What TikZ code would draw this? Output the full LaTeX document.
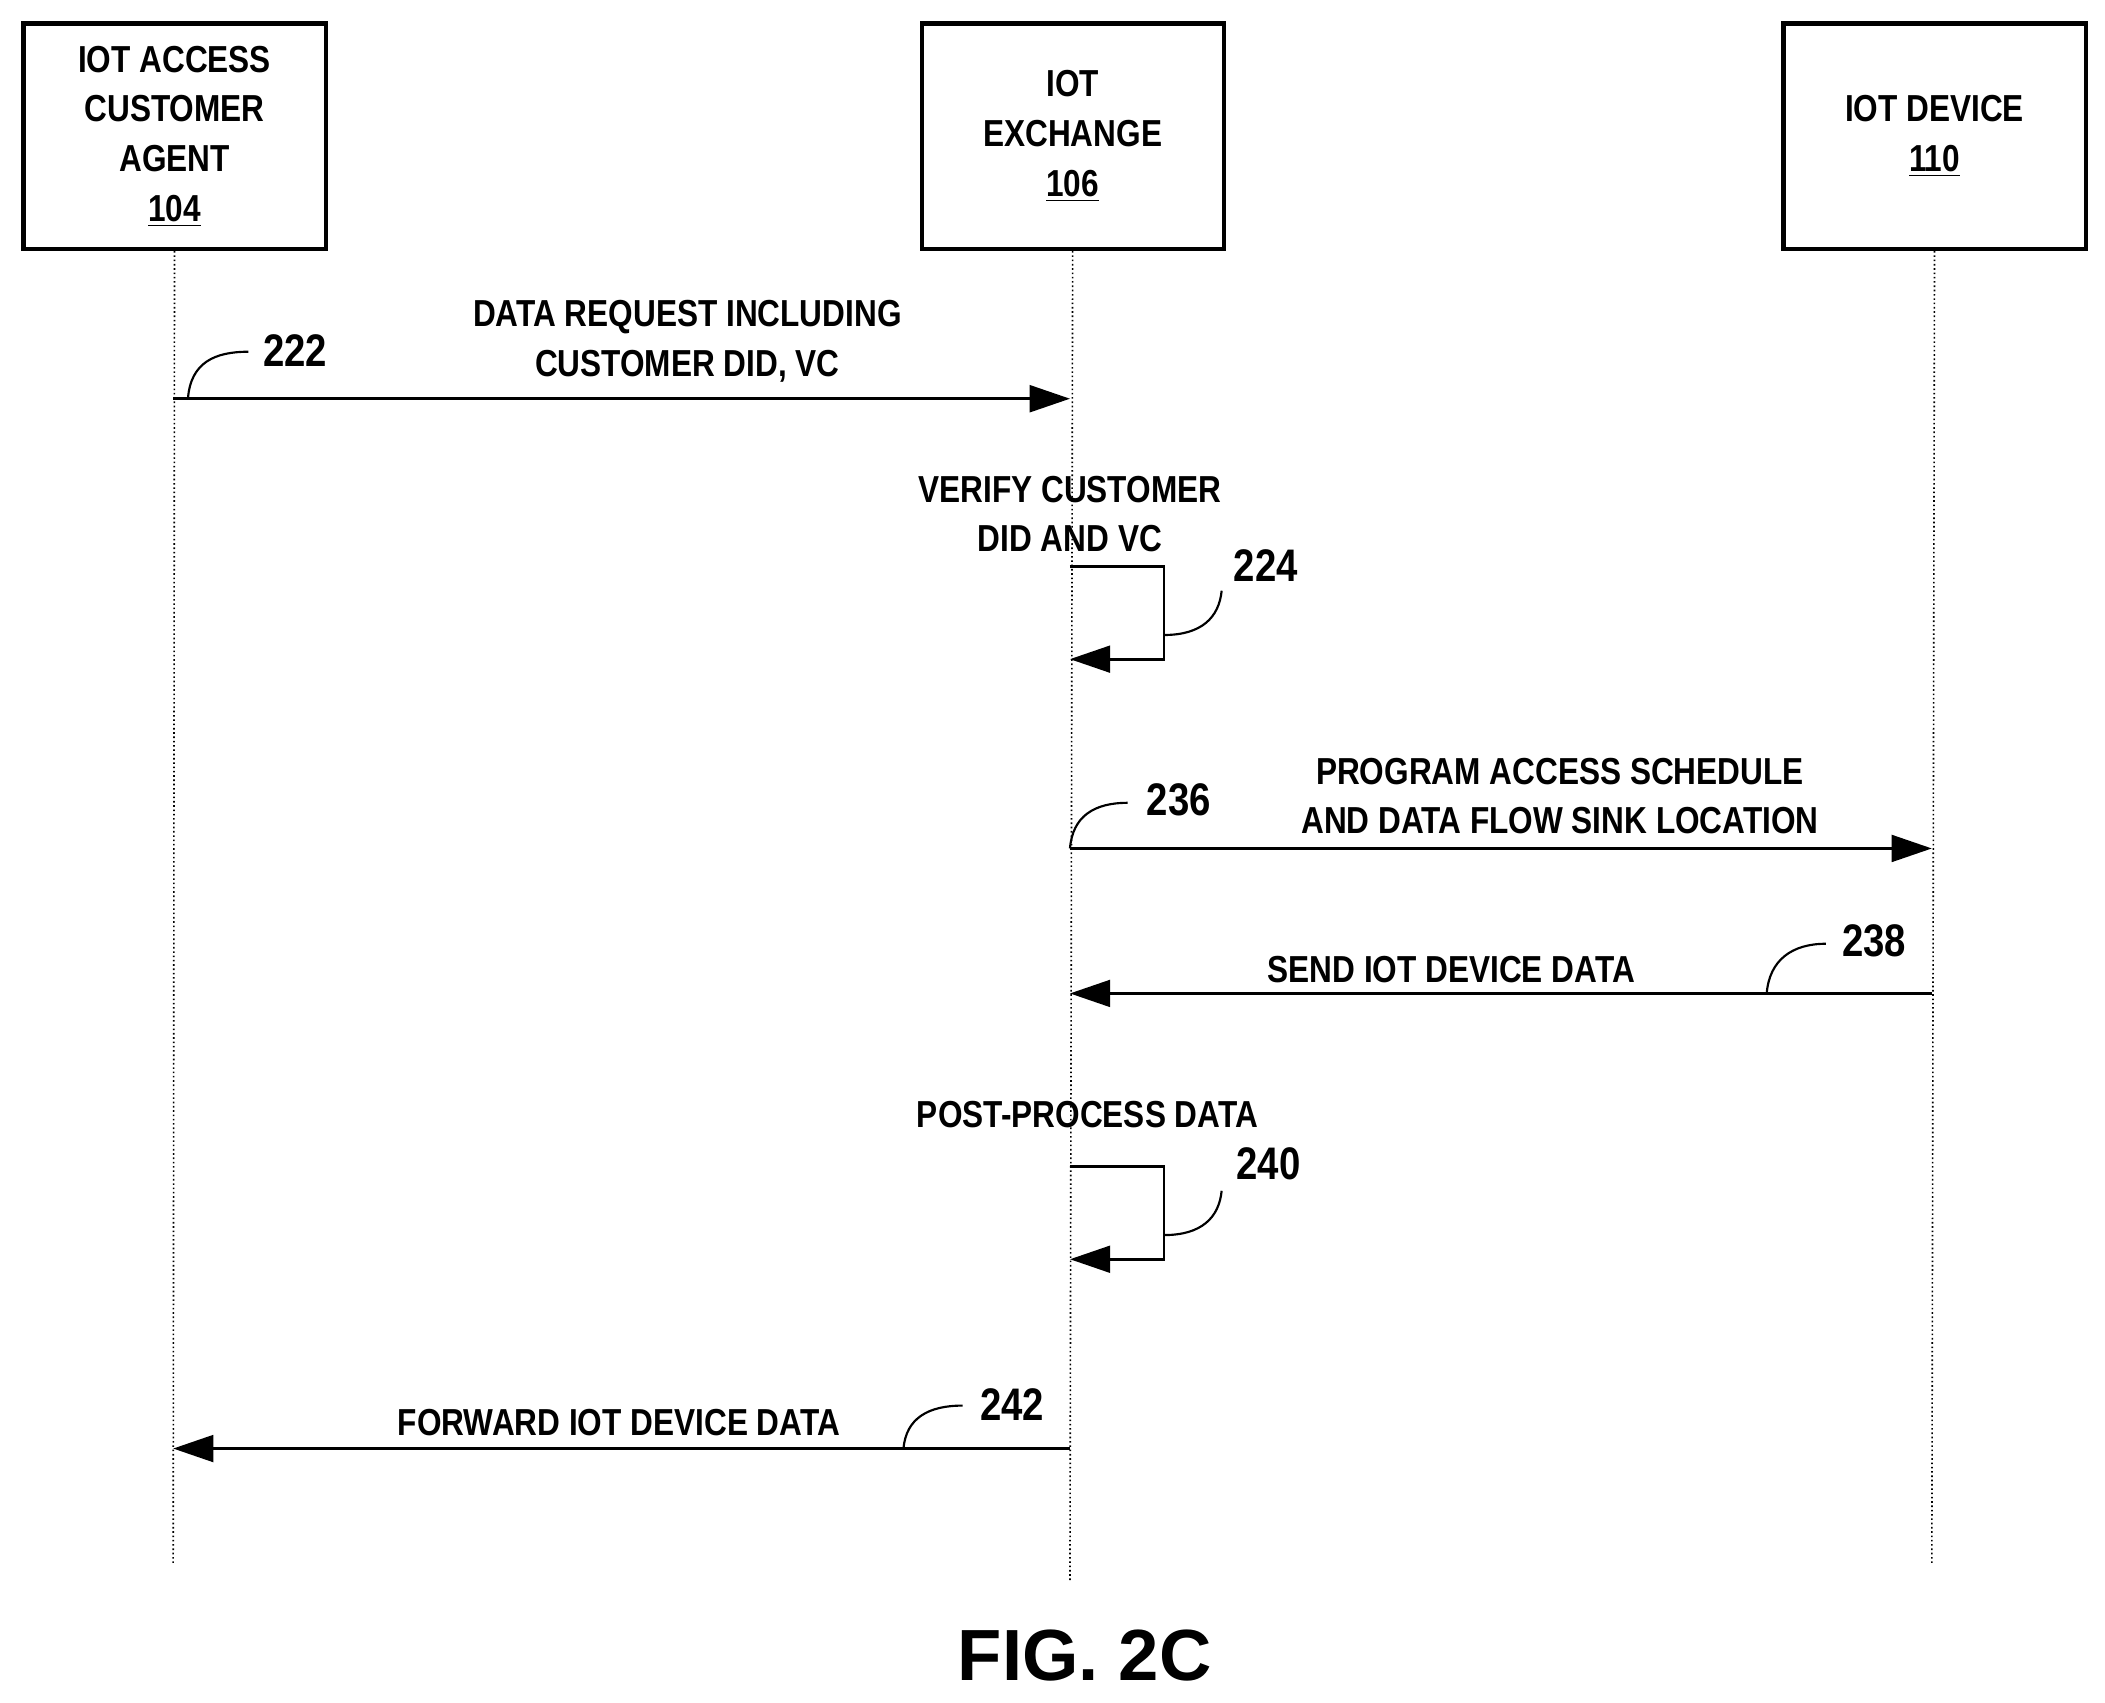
\documentclass[tikz,border=0pt]{standalone}
\usepackage{fontspec}
\setmainfont{Liberation Sans}[FakeStretch=0.84]
\newfontfamily\figfont{Liberation Sans}
\usetikzlibrary{arrows.meta}
\begin{document}
\begin{tikzpicture}[x=0.5pt,y=-0.5pt,
  box/.style={draw,line width=1.5pt,minimum width=112.5pt,minimum height=84pt,anchor=north west,align=center,font=\bfseries\fontsize{14}{18.5}\selectfont},
  lbl/.style={align=center,font=\bfseries\fontsize{14}{18.5}\selectfont},
  num/.style={font=\bfseries\fontsize{17}{20}\selectfont},
  life/.style={densely dotted,line width=0.6pt},
  msg/.style={line width=1pt,-{Triangle[length=15pt,width=10pt]}},
  hook/.style={line width=0.8pt}]
\useasboundingbox (0,0) rectangle (1568,1268);
\node[box] (a) at (16,16) {IOT ACCESS\\CUSTOMER\\AGENT\\\underline{104}};
\node[box] (e) at (685,16) {IOT\\EXCHANGE\\\underline{106}};
\node[box] (d) at (1327,16) {IOT DEVICE\\\underline{110}};
\coordinate (aend) at (129,1165);
\coordinate (eend) at (797,1178);
\coordinate (dend) at (1439,1165);
\draw[life] (a.south) -- (aend);
\draw[life] (e.south) -- (eend);
\draw[life] (d.south) -- (dend);
% 222
\coordinate (a222) at (129,297); \coordinate (e222) at (797,297);
\draw[msg] (a222) -- (e222);
\node[lbl] (t222) at (512,254) {DATA REQUEST INCLUDING\\CUSTOMER DID, VC};
\node[num] (n222) at (220,261) {222};
\draw[hook] (140,297) .. controls (142,270) and (160,262) .. (185,262);
% 224
\node[lbl] (t224) at (797,383) {VERIFY CUSTOMER\\DID AND VC};
\coordinate (s224) at (797,422); \coordinate (e224) at (797,491);
\draw[msg] (s224) -- (867,422) -- (867,491) -- (e224);
\node[num] (n224) at (943,421) {224};
\draw[hook] (867,473) .. controls (895,473) and (908,460) .. (910,440);
% 236
\coordinate (s236) at (797,632); \coordinate (e236) at (1439,632);
\draw[msg] (s236) -- (e236);
\node[lbl] (t236) at (1162,593) {PROGRAM ACCESS SCHEDULE\\AND DATA FLOW SINK LOCATION};
\node[num] (n236) at (878,596) {236};
\draw[hook] (797,632) .. controls (799,608) and (815,598) .. (840,598);
% 238
\coordinate (s238) at (1439,740); \coordinate (e238) at (797,740);
\draw[msg] (s238) -- (e238);
\node[lbl] (t238) at (1081,722) {SEND IOT DEVICE DATA};
\node[num] (n238) at (1396,701) {238};
\draw[hook] (1316,740) .. controls (1318,715) and (1335,703) .. (1360,703);
% 240
\node[lbl] (t240) at (810,830) {POST-PROCESS DATA};
\coordinate (s240) at (797,869); \coordinate (e240) at (797,938);
\draw[msg] (s240) -- (867,869) -- (867,938) -- (e240);
\node[num] (n240) at (945,867) {240};
\draw[hook] (867,920) .. controls (895,920) and (908,907) .. (910,887);
% 242
\coordinate (s242) at (797,1079); \coordinate (e242) at (129,1079);
\draw[msg] (s242) -- (e242);
\node[lbl] (t242) at (461,1060) {FORWARD IOT DEVICE DATA};
\node[num] (n242) at (754,1046) {242};
\draw[hook] (673,1079) .. controls (675,1056) and (692,1047) .. (717,1047);
\node[font=\figfont\bfseries\fontsize{27}{30}\selectfont] (fig) at (808,1233) {FIG. 2C};
\end{tikzpicture}
\end{document}
